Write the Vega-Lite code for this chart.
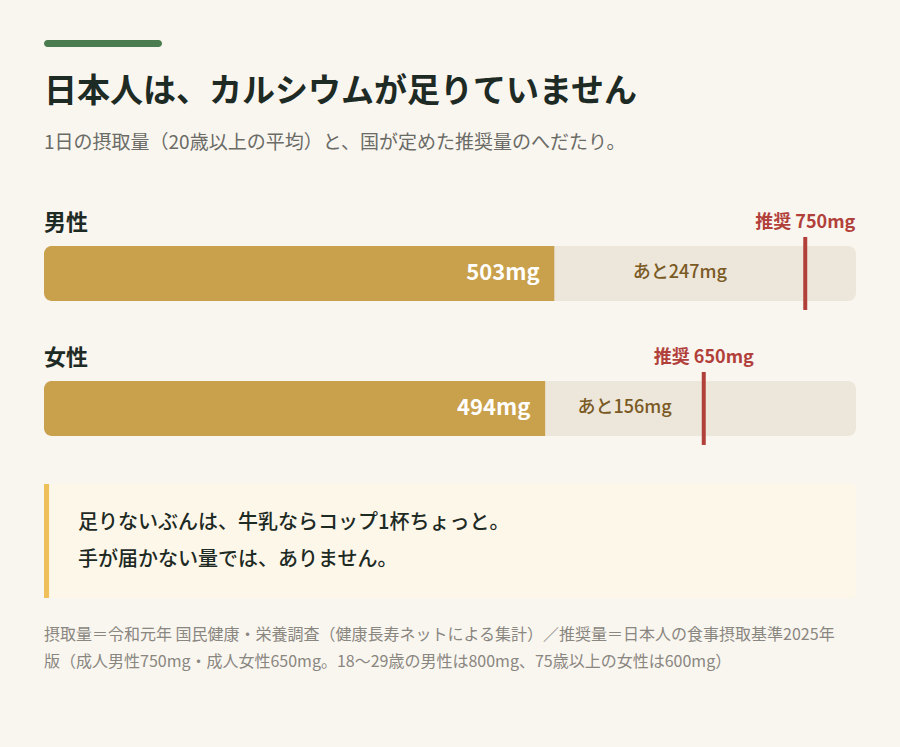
{
  "$schema": "https://vega.github.io/schema/vega-lite/v6.json",
  "width": 900,
  "height": 747,
  "autosize": {"type": "fit", "contains": "padding"},
  "padding": 0,
  "background": "#f9f6f0",
  "config": {"view": {"stroke": null}, "font": "Noto Sans CJK JP"},
  "datasets": {
    "calcium": [
      {"sex": "男性", "intake": 503, "recommended": 750, "shortfall": 247, "intake_label": "503mg", "rec_label": "推奨 750mg", "gap_label": "あと247mg"},
      {"sex": "女性", "intake": 494, "recommended": 650, "shortfall": 156, "intake_label": "494mg", "rec_label": "推奨 650mg", "gap_label": "あと156mg"}
    ]
  },
  "data": {"name": "calcium"},
  "layer": [
    {
      "data": {"values": [{"part": "accent"}]},
      "mark": {"type": "bar", "color": "#4a7c50", "height": 7, "yOffset": -95, "cornerRadius": 3.5},
      "encoding": {
        "x": {"datum": 0, "type": "quantitative", "scale": {"domain": [-43.35, 843.35], "nice": false, "zero": false}, "axis": null},
        "x2": {"datum": 116.3},
        "y": {"datum": "見出し", "type": "nominal", "axis": null, "scale": {"domain": ["見出し", "男性", "女性", "まとめ", "出典"], "paddingInner": 0.5926, "paddingOuter": 0.563, "align": 0.73, "round": false}}
      }
    },
    {
      "data": {"values": [{"text": "日本人は、カルシウムが足りていません"}]},
      "mark": {"type": "text", "align": "left", "baseline": "middle", "dy": -46.5, "fontSize": 33, "fontWeight": "bold", "color": "#1e2a24"},
      "encoding": {"x": {"datum": 0}, "y": {"datum": "見出し"}, "text": {"field": "text"}}
    },
    {
      "data": {"values": [{"text": "1日の摂取量（20歳以上の平均）と、国が定めた推奨量のへだたり。"}]},
      "mark": {"type": "text", "align": "left", "baseline": "middle", "dy": 4.5, "fontSize": 19, "color": "#6b6b66"},
      "encoding": {"x": {"datum": 0}, "y": {"datum": "見出し"}, "text": {"field": "text"}}
    },
    {
      "mark": {"type": "bar", "color": "#ede6da", "cornerRadius": 8},
      "encoding": {"x": {"datum": 0}, "x2": {"datum": 800}, "y": {"field": "sex", "type": "nominal"}}
    },
    {
      "mark": {"type": "bar", "color": "#c9a04b", "cornerRadiusTopLeft": 8, "cornerRadiusBottomLeft": 8},
      "encoding": {"x": {"field": "intake", "type": "quantitative"}, "y": {"field": "sex", "type": "nominal"}}
    },
    {
      "mark": {"type": "text", "align": "right", "baseline": "middle", "dx": -15, "fontSize": 22, "fontWeight": "bold", "color": "#ffffff"},
      "encoding": {"x": {"field": "intake", "type": "quantitative"}, "y": {"field": "sex", "type": "nominal"}, "text": {"field": "intake_label"}}
    },
    {
      "transform": [
        {"fold": ["intake", "recommended"], "as": ["kind", "amount"]},
        {"aggregate": [{"op": "mean", "field": "amount", "as": "mid"}], "groupby": ["sex", "gap_label"]}
      ],
      "mark": {"type": "text", "align": "center", "baseline": "middle", "fontSize": 18, "fontWeight": 500, "color": "#7a5a24"},
      "encoding": {"x": {"field": "mid", "type": "quantitative"}, "y": {"field": "sex", "type": "nominal"}, "text": {"field": "gap_label"}}
    },
    {
      "mark": {"type": "tick", "color": "#b2403a", "size": 73, "thickness": 4, "opacity": 1},
      "encoding": {"x": {"field": "recommended", "type": "quantitative"}, "y": {"field": "sex", "type": "nominal"}}
    },
    {
      "mark": {"type": "text", "align": "center", "baseline": "middle", "dy": -50, "fontSize": 18, "fontWeight": 600, "color": "#b2403a"},
      "encoding": {"x": {"field": "recommended", "type": "quantitative"}, "y": {"field": "sex", "type": "nominal"}, "text": {"field": "rec_label"}}
    },
    {
      "mark": {"type": "text", "align": "left", "baseline": "middle", "dy": -50.5, "fontSize": 22, "fontWeight": "bold", "color": "#1e2a24"},
      "encoding": {"x": {"datum": 0}, "y": {"field": "sex", "type": "nominal"}, "text": {"field": "sex"}}
    },
    {
      "data": {"values": [{"part": "note"}]},
      "mark": {"type": "bar", "color": "#fdf7ea", "height": 114, "yOffset": -2.5, "cornerRadiusTopRight": 4, "cornerRadiusBottomRight": 4},
      "encoding": {"x": {"datum": 0}, "x2": {"datum": 800}, "y": {"datum": "まとめ"}}
    },
    {
      "data": {"values": [{"part": "note"}]},
      "mark": {"type": "bar", "color": "#efc05a", "height": 114, "yOffset": -2.5},
      "encoding": {"x": {"datum": 0}, "x2": {"datum": 5}, "y": {"datum": "まとめ"}}
    },
    {
      "data": {"values": [{"text": "足りないぶんは、牛乳ならコップ1杯ちょっと。"}]},
      "mark": {"type": "text", "align": "left", "baseline": "middle", "dx": 34, "dy": -20.5, "fontSize": 20, "fontWeight": 500, "color": "#1e2a24"},
      "encoding": {"x": {"datum": 0}, "y": {"datum": "まとめ"}, "text": {"field": "text"}}
    },
    {
      "data": {"values": [{"text": "手が届かない量では、ありません。"}]},
      "mark": {"type": "text", "align": "left", "baseline": "middle", "dx": 34, "dy": 16.5, "fontSize": 20, "fontWeight": 500, "color": "#1e2a24"},
      "encoding": {"x": {"datum": 0}, "y": {"datum": "まとめ"}, "text": {"field": "text"}}
    },
    {
      "data": {"values": [{"text": "摂取量＝令和元年 国民健康・栄養調査（健康長寿ネットによる集計）／推奨量＝日本人の食事摂取基準2025年"}]},
      "mark": {"type": "text", "align": "left", "baseline": "middle", "dy": -43.5, "fontSize": 16, "color": "#8a8680"},
      "encoding": {"x": {"datum": 0}, "y": {"datum": "出典"}, "text": {"field": "text"}}
    },
    {
      "data": {"values": [{"text": "版（成人男性750mg・成人女性650mg。18〜29歳の男性は800mg、75歳以上の女性は600mg）"}]},
      "mark": {"type": "text", "align": "left", "baseline": "middle", "dy": -16.5, "fontSize": 16, "color": "#8a8680"},
      "encoding": {"x": {"datum": 0}, "y": {"datum": "出典"}, "text": {"field": "text"}}
    }
  ]
}
